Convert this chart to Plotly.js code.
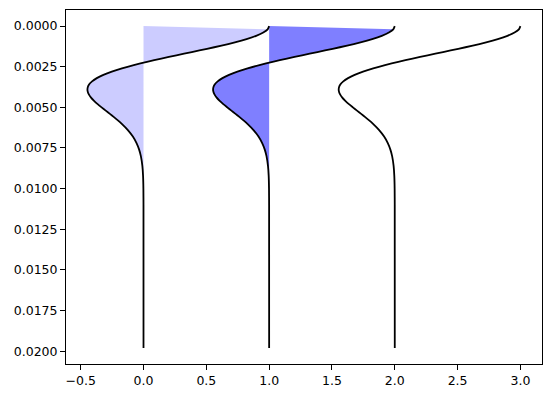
<!DOCTYPE html>
<html>
<head>
<meta charset="utf-8">
<script src="https://cdn.plot.ly/plotly-3.0.1.min.js"></script>
<style>html,body{margin:0;padding:0;background:#fff;}#chart{width:551px;height:397px;}</style>
</head>
<body>
<div id="chart"></div>
<script>
// sample times (y axis, s)
const times = [0.0000,0.0002,0.0004,0.0006,0.0008,0.0010,0.0012,0.0014,0.0016,0.0018,
  0.0020,0.0022,0.0024,0.0026,0.0028,0.0030,0.0032,0.0034,0.0036,0.0038,
  0.0040,0.0042,0.0044,0.0046,0.0048,0.0050,0.0052,0.0054,0.0056,0.0058,
  0.0060,0.0064,0.0068,0.0072,0.0076,0.0080,0.0086,0.0092,0.0100,0.0110,0.0198];
// wavelet amplitude
const amplitude = [1.0000,0.9882,0.9533,0.8965,0.8202,0.7272,0.6209,0.5053,0.3842,0.2618,
  0.1418,0.0277,-0.0776,-0.1716,-0.2526,-0.3194,-0.3718,-0.4096,-0.4336,-0.4450,
  -0.4450,-0.4352,-0.4176,-0.3936,-0.3650,-0.3336,-0.3007,-0.2675,-0.2350,-0.2038,
  -0.1748,-0.1244,-0.0847,-0.0554,-0.0348,-0.0210,-0.0092,-0.0037,-0.0010,-0.0002,0.0000];
// trace offsets and fill opacity
const offsets = [0, 1, 2];
const fillAlpha = [0.2, 0.5, 0];

const traces = [];
offsets.forEach((off, i) => {
  if (fillAlpha[i] > 0) {
    const fx = times.map((t, k) => k === 0 ? off : off + amplitude[k]);
    traces.push({
      x: fx, y: times, type: 'scatter', mode: 'lines',
      fill: 'toself', fillcolor: `rgba(0,0,255,${fillAlpha[i]})`,
      line: {width: 0, color: 'rgba(0,0,0,0)'}, hoverinfo: 'skip', showlegend: false
    });
  }
});
offsets.forEach((off) => {
  traces.push({
    x: amplitude.map(a => off + a), y: times, type: 'scatter', mode: 'lines',
    line: {color: '#000', width: 1.8, shape: 'spline', smoothing: 0.6}, showlegend: false
  });
});

const axisBase = {
  showgrid: false, zeroline: false, showline: true, linecolor: '#000', linewidth: 1,
  mirror: true, ticks: 'outside', ticklen: 5, tickwidth: 1, tickcolor: '#000',
  tickfont: {family: 'DejaVu Sans', size: 12.5, color: '#000'}
};
const layout = {
  width: 551, height: 397,
  margin: {l: 66, r: 9, t: 10, b: 33},
  paper_bgcolor: '#fff', plot_bgcolor: '#fff',
  showlegend: false,
  xaxis: Object.assign({}, axisBase, {range: [-0.617, 3.172], tickvals: [-0.5,0,0.5,1,1.5,2,2.5,3], tickformat: '.1f'}),
  yaxis: Object.assign({}, axisBase, {range: [0.02079, -0.00099], tickvals: [0,0.0025,0.005,0.0075,0.01,0.0125,0.015,0.0175,0.02], tickformat: '.4f'})
};
Plotly.newPlot('chart', traces, layout, {displayModeBar: false, staticPlot: true});
</script>
</body>
</html>
